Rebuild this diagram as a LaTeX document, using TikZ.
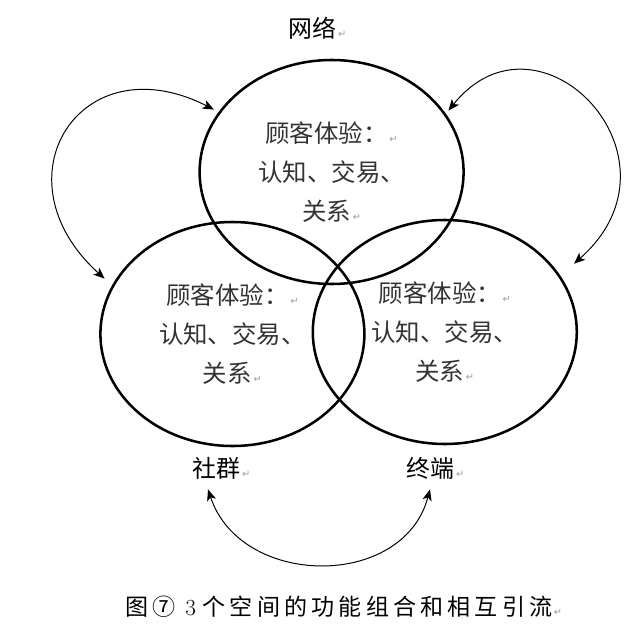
\documentclass[tikz,border=0pt]{standalone}
\usepackage{fontspec}
\newfontfamily\cjk{Noto Sans CJK SC}
\newfontfamily\cjkcap[LetterSpace=18]{Noto Sans CJK SC}
\newfontfamily\dejavu{DejaVu Sans}
\usetikzlibrary{shapes.geometric,arrows.meta}
\newcommand{\pmark}{{\dejavu\fontsize{7pt}{7pt}\selectfont\color{gray!80}\,↵}}
\tikzset{
  areabox/.style={ellipse, draw, line width=1.8pt, minimum width=6.6cm, minimum height=5.6cm,
    inner sep=0pt, align=center, text=black!80, font=\cjk\fontsize{17.4pt}{27.7pt}\selectfont},
  areatag/.style={inner sep=2pt, font=\cjk\fontsize{17pt}{20pt}\selectfont},
  flowarrow/.style={<->, >={Stealth[length=8pt,width=6.5pt,inset=2pt]}, line width=0.7pt},
}
\begin{document}
\begin{tikzpicture}
  \useasboundingbox (0,0) rectangle (16,15.75);
  % three spaces
  \node[areabox] (T) at (8.29,11.45) {顾客体验：\pmark\\认知、交易、\\关系\pmark};
  \node[areabox] (L) at (5.81,7.40) {顾客体验：\pmark\\认知、交易、\\关系\pmark};
  \node[areabox] (R) at (11.12,7.45) {顾客体验：\pmark\\认知、交易、\\关系\pmark};
  % names of the spaces
  \node[areatag] (N) at (7.94,15.05) {网络\pmark};
  \node[areatag] (S) at (5.54,4.05) {社群\pmark};
  \node[areatag] (E) at (10.89,4.05) {终端\pmark};
  % flows between spaces
  \draw[flowarrow, shorten <=0.25cm, shorten >=0.13cm] (L.158)
    .. controls +(-2.96,2.67) and +(-3.46,1.76) .. (T.152);
  \draw[flowarrow, shorten <=0.1cm, shorten >=0.45cm] (T.27.5)
    .. controls +(2.33,2.9) and +(3.34,2.94) .. (R.26);
  \draw[flowarrow] ([xshift=-0.34cm,yshift=-0.18cm]S.south)
    .. controls +(0.82,-2.47) and +(-0.67,-2.51) .. ([xshift=-0.14cm,yshift=-0.18cm]E.south);
  % caption
  \node[font=\cjkcap\fontsize{16.4pt}{20pt}\selectfont] (C) at (8.6,0.57)
    {图⑦\hspace{0.4em}{\rmfamily 3}\hspace{0.3em}个空间的功能组合和相互引流\pmark};
\end{tikzpicture}
\end{document}
